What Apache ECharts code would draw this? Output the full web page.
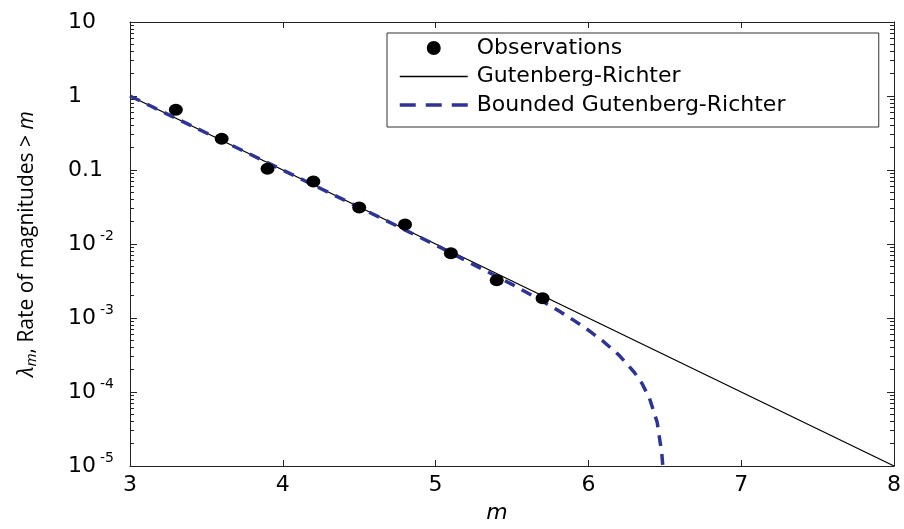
<!DOCTYPE html>
<html>
<head>
<meta charset="utf-8">
<script src="https://cdn.jsdelivr.net/npm/echarts@6/dist/echarts.min.js"></script>
<style>html,body{margin:0;padding:0;background:#fff;}#c{width:904px;height:529px;}</style>
</head>
<body>
<div id="c"></div>
<script>
// Observations
var obsM = [3.3, 3.6, 3.9, 4.2, 4.5, 4.8, 5.1, 5.4, 5.7];
var obsRate = [0.65, 0.265, 0.104, 0.070, 0.0311, 0.0184, 0.0075, 0.00323, 0.00185];
// Gutenberg-Richter line
var grM = [3, 8];
var grRate = [1, 1e-5];
// Bounded Gutenberg-Richter curve
var bgrM = [3.0, 3.5, 4.0, 4.5, 5.0, 5.5, 5.7, 5.8, 5.9, 6.0, 6.1, 6.2, 6.3, 6.35, 6.4, 6.45, 6.48, 6.487];
var bgrRate = [1.0, 0.316, 0.0997, 0.0313, 0.00969, 0.00285, 0.00168, 0.00127, 0.000943, 0.000684, 0.000478, 0.000315, 0.000185, 0.000131, 0.000082, 0.000039, 0.000015, 0.00001];
// Tick labels
var yTickValues = [1e-5, 1e-4, 1e-3, 1e-2, 0.1, 1, 10];
var yTickLabels = ['10^-5', '10^-4', '10^-3', '10^-2', '0.1', '1', '10'];
// minor log ticks, as exponents (log10 of 2..9 x 10^d)
var yMinorExp = [];
for (var d = -5; d < 1; d++) { for (var k = 2; k <= 9; k++) { yMinorExp.push(d + Math.log10(k)); } }

function zip(a, b) { return a.map(function (v, i) { return [v, b[i]]; }); }

var FONT = 'DejaVu Sans';
var chart = echarts.init(document.getElementById('c'));
var axisColor = '#222';

function yLabel(v) {
  var lv = Math.log10(v);
  for (var i = 0; i < yTickValues.length; i++) {
    if (Math.abs(Math.log10(yTickValues[i]) - lv) < 1e-6) {
      var s = yTickLabels[i];
      if (s.indexOf('^') >= 0) {
        var p = s.split('^');
        return '{b|' + p[0] + '}{sup|' + p[1] + '}';
      }
      return '{b|' + s + '}';
    }
  }
  return '';
}

var richY = {
  b: { fontSize: 22, fontFamily: FONT, color: '#000' },
  sup: { fontSize: 14, fontFamily: FONT, color: '#000', padding: [0, 0, 16, 4] }
};

var baseY = {
  type: 'log', logBase: 10, min: 1e-5, max: 10,
  splitLine: { show: false }
};
var minorY = {
  type: 'value', min: -5, max: 1,
  splitLine: { show: false },
  axisLine: { show: false, onZero: false },
  axisLabel: { show: false },
  axisTick: { show: true, inside: true, length: 4, customValues: yMinorExp, lineStyle: { color: axisColor } }
};

chart.setOption({
  animation: false,
  backgroundColor: '#fff',
  grid: { left: 130, right: 7, top: 22, bottom: 62 },
  legend: {
    orient: 'vertical', left: 387, top: 33,
    padding: [4, 10, 11, 11],
    itemWidth: 68, itemHeight: 14, itemGap: 6.5,
    borderColor: '#333', borderWidth: 1, backgroundColor: '#fff',
    textStyle: { fontFamily: FONT, fontSize: 22, color: '#000', width: 392, lineHeight: 22, padding: [0, 0, 0, 4] },
    data: [
      { name: 'Observations', icon: 'circle', itemStyle: { color: '#000', opacity: 1 } },
      { name: 'Gutenberg-Richter', itemStyle: { color: 'rgba(0,0,0,0)', borderWidth: 0 }, lineStyle: { width: 1.3 } },
      { name: 'Bounded Gutenberg-Richter', itemStyle: { color: 'rgba(0,0,0,0)', borderWidth: 0 }, lineStyle: { type: [16, 10], width: 3.5 } }
    ]
  },
  xAxis: [
    {
      type: 'value', min: 3, max: 8, interval: 1, position: 'bottom',
      name: 'm', nameLocation: 'middle', nameGap: 36,
      nameTextStyle: { fontFamily: FONT, fontSize: 22, fontStyle: 'italic', color: '#000', padding: [0, 30, 0, 0] },
      axisLine: { show: true, onZero: false, lineStyle: { color: axisColor, width: 1 } },
      axisTick: { show: true, inside: true, length: 6, lineStyle: { color: axisColor } },
      axisLabel: { fontFamily: FONT, fontSize: 22, color: '#000', margin: 8 },
      splitLine: { show: false }
    },
    {
      type: 'value', min: 3, max: 8, interval: 1, position: 'top',
      axisLine: { show: true, onZero: false, lineStyle: { color: axisColor, width: 1 } },
      axisTick: { show: true, inside: true, length: 6, lineStyle: { color: axisColor } },
      axisLabel: { show: false },
      splitLine: { show: false }
    }
  ],
  yAxis: [
    Object.assign({}, baseY, {
      position: 'left',
      name: '{i|λ}{sub|m}, Rate of magnitudes > {i|m}', nameLocation: 'middle', nameGap: 91,
      nameTextStyle: {
        fontFamily: 'Open Sans', fontSize: 21, color: '#000',
        rich: {
          i: { fontFamily: 'Open Sans', fontSize: 21, fontStyle: 'italic', color: '#000' },
          sub: { fontFamily: 'Open Sans', fontSize: 15, fontStyle: 'italic', color: '#000', padding: [8, 0, 0, 0] }
        }
      },
      axisLine: { show: true, onZero: false, lineStyle: { color: axisColor, width: 1 } },
      axisTick: { show: true, inside: true, length: 7, lineStyle: { color: axisColor } },
      axisLabel: { align: 'left', margin: 62, formatter: yLabel, rich: richY }
    }),
    Object.assign({}, baseY, {
      position: 'right',
      axisLine: { show: true, onZero: false, lineStyle: { color: axisColor, width: 1 } },
      axisTick: { show: true, inside: true, length: 7, lineStyle: { color: axisColor } },
      axisLabel: { show: false }
    }),
    Object.assign({}, minorY, { position: 'left' }),
    Object.assign({}, minorY, { position: 'right' })
  ],
  series: [
    {
      name: 'Observations', type: 'scatter', xAxisIndex: 0, yAxisIndex: 0,
      data: zip(obsM, obsRate), symbol: 'circle', symbolSize: [14, 12],
      itemStyle: { color: '#000', opacity: 1 }, z: 5
    },
    {
      name: 'Gutenberg-Richter', type: 'line', xAxisIndex: 0, yAxisIndex: 0,
      data: zip(grM, grRate), symbol: 'none', showSymbol: false,
      itemStyle: { color: '#000' },
      lineStyle: { color: '#000', width: 1.3 }, z: 3
    },
    {
      name: 'Bounded Gutenberg-Richter', type: 'line', xAxisIndex: 0, yAxisIndex: 0,
      data: zip(bgrM, bgrRate), symbol: 'none', showSymbol: false, smooth: false,
      itemStyle: { color: '#2d3494' },
      lineStyle: { color: '#2d3494', width: 3.5, type: [11, 8] }, z: 4
    }
  ]
});
</script>
</body>
</html>
